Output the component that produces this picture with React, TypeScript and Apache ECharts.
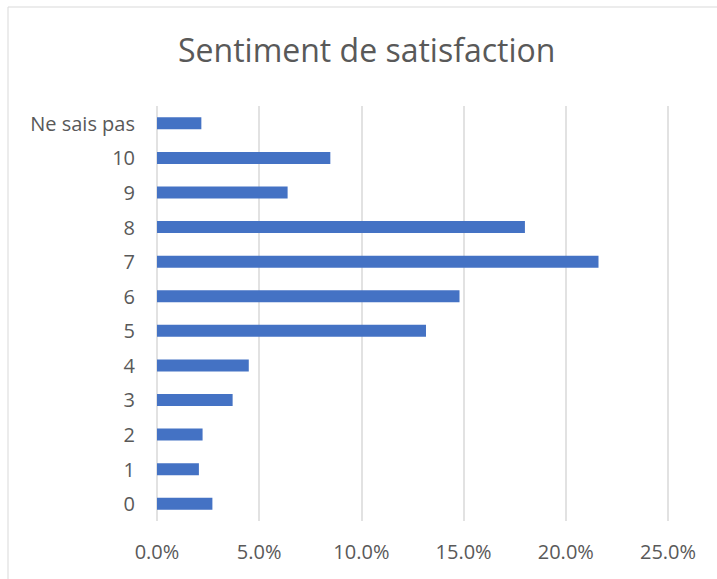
import React, { useEffect, useRef } from "react";
import * as echarts from "echarts";

const categories = ["0", "1", "2", "3", "4", "5", "6", "7", "8", "9", "10", "Ne sais pas"];
const values = [0.0271, 0.0205, 0.0223, 0.037, 0.0449, 0.1316, 0.148, 0.216, 0.18, 0.0639, 0.0848, 0.0217];
const title = "Sentiment de satisfaction";

export default function App() {
  const ref = useRef<HTMLDivElement>(null);
  useEffect(() => {
    const chart = echarts.init(ref.current!, null, { renderer: "svg" });
    chart.setOption({
      animation: false,
      backgroundColor: "#ffffff",
      title: {
        text: title,
        left: 173,
        top: 28,
        textStyle: { fontFamily: "Open Sans", fontSize: 32, fontWeight: "normal", color: "#595959" },
      },
      graphic: [
        {
          type: "rect",
          shape: { x: 8, y: 7, width: 800, height: 700 },
          style: { fill: "none", stroke: "#d9d9d9", lineWidth: 1 },
          silent: true,
        },
      ],
      grid: { left: 157, right: 49, top: 106, bottom: 58, containLabel: false },
      xAxis: {
        type: "value",
        min: 0,
        max: 0.25,
        interval: 0.05,
        axisLine: { show: false },
        axisTick: { show: false },
        splitLine: { show: true, lineStyle: { color: "#d9d9d9", width: 1.5 } },
        axisLabel: {
          formatter: (v: number) => (v * 100).toFixed(1) + "%",
          fontFamily: "Open Sans",
          fontSize: 20,
          color: "#595959",
          margin: 20,
        },
      },
      yAxis: {
        type: "category",
        data: categories,
        axisLine: { show: false },
        axisTick: { show: false },
        axisLabel: { fontFamily: "Open Sans", fontSize: 20, color: "#595959", margin: 22 },
      },
      series: [
        {
          type: "bar",
          data: values,
          barWidth: 12,
          itemStyle: { color: "#4472c4" },
        },
      ],
    });
    return () => chart.dispose();
  }, []);
  return <div ref={ref} style={{ position: "absolute", left: 0, top: 0, width: 717, height: 579 }} />;
}
